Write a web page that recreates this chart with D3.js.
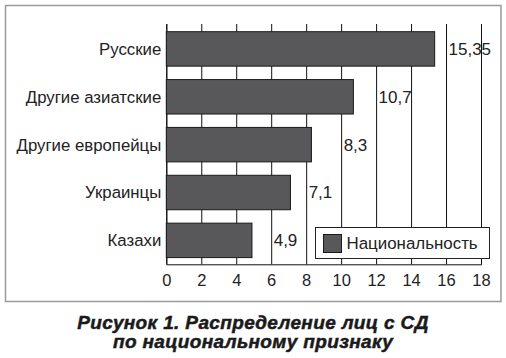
<!DOCTYPE html>
<html><head><meta charset="utf-8">
<script src="https://cdn.jsdelivr.net/npm/d3@7"></script>
<style>
html,body{margin:0;padding:0;background:#fff;}
svg{display:block;}
text{font-family:"Liberation Sans",Arial,sans-serif;}
</style></head>
<body>
<svg id="chart" width="506" height="358"></svg>
<script>
const categories = ["Русские", "Другие азиатские", "Другие европейцы", "Украинцы", "Казахи"];
const values = [15.35, 10.7, 8.3, 7.1, 4.9];
const valueLabels = ["15,35", "10,7", "8,3", "7,1", "4,9"];
const xTicks = [0, 2, 4, 6, 8, 10, 12, 14, 16, 18];
const seriesName = "Национальность";
const titleLines = ["Рисунок 1. Распределение лиц с СД", "по национальному признаку"];

(function () {
const svg = d3.select("#chart");
const W = 506, H = 358;
const pLeft = 166.3, pRight = 481, pTop = 24, pBottom = 264.3;

// outer frame
svg.append("rect").attr("x", 5.5).attr("y", 5.5).attr("width", 495.5).attr("height", 296)
  .attr("fill", "#fff").attr("stroke", "#9a9a9a").attr("stroke-width", 1.5);

const x = d3.scaleLinear().domain([0, 18]).range([pLeft, pRight]);
const y = d3.scaleBand().domain(categories).range([pTop + 1, pBottom]).paddingInner(0.28).paddingOuter(0.14);

// grid + axis
const xAxis = d3.axisBottom(x).tickValues(xTicks).tickSize(-(pBottom - pTop)).tickPadding(10).tickFormat(d3.format("d"));
const gx = svg.append("g").attr("transform", `translate(0,${pBottom})`).call(xAxis);
gx.select(".domain").attr("stroke", "#111").attr("stroke-width", 1);
gx.selectAll(".tick line").attr("stroke", "#111").attr("stroke-width", 1);
gx.selectAll(".tick text").attr("fill", "#222").attr("font-size", 16.5).attr("font-family", "Liberation Sans, Arial, sans-serif");

// bars
svg.append("g").selectAll("rect").data(values).join("rect")
  .attr("x", x(0))
  .attr("y", (d, i) => y(categories[i]))
  .attr("width", d => x(d) - x(0))
  .attr("height", y.bandwidth())
  .attr("fill", "#58585a")
  .attr("stroke", "#1a1a1a").attr("stroke-width", 1);

// category labels
svg.append("g").selectAll("text").data(categories).join("text")
  .attr("x", pLeft - 5)
  .attr("y", d => y(d) + y.bandwidth() / 2)
  .attr("dy", "0.35em")
  .attr("text-anchor", "end")
  .attr("font-size", 16.8)
  .attr("fill", "#222")
  .text(d => d);

// value labels: placed just past the next gridline after the bar end
svg.append("g").selectAll("text").data(values).join("text")
  .attr("x", d => x(Math.ceil(d / 2) * 2) + 2.5)
  .attr("y", (d, i) => y(categories[i]) + y.bandwidth() / 2)
  .attr("dy", "0.35em")
  .attr("font-size", 17)
  .attr("fill", "#222")
  .text((d, i) => valueLabels[i]);

// legend
const lg = svg.append("g");
lg.append("rect").attr("x", 315.5).attr("y", 227.5).attr("width", 174).attr("height", 31)
  .attr("fill", "#fff").attr("stroke", "#222").attr("stroke-width", 1);
lg.append("rect").attr("x", 323.5).attr("y", 234.5).attr("width", 18).attr("height", 18)
  .attr("fill", "#58585a").attr("stroke", "#1a1a1a").attr("stroke-width", 1);
lg.append("text").attr("x", 346.5).attr("y", 243).attr("dy", "0.35em")
  .attr("font-size", 16.9).attr("fill", "#222").text(seriesName);

// title
svg.append("g").selectAll("text").data(titleLines).join("text")
  .attr("x", W / 2)
  .attr("y", (d, i) => 328.5 + i * 19.5)
  .attr("text-anchor", "middle")
  .attr("font-size", 19)
  .attr("letter-spacing", 0.35)
  .attr("font-weight", "bold")
  .attr("font-style", "italic")
  .attr("fill", "#1a1a1a")
  .attr("stroke", "#1a1a1a")
  .attr("stroke-width", 0.5)
  .text(d => d);
})();
</script>
</body></html>
